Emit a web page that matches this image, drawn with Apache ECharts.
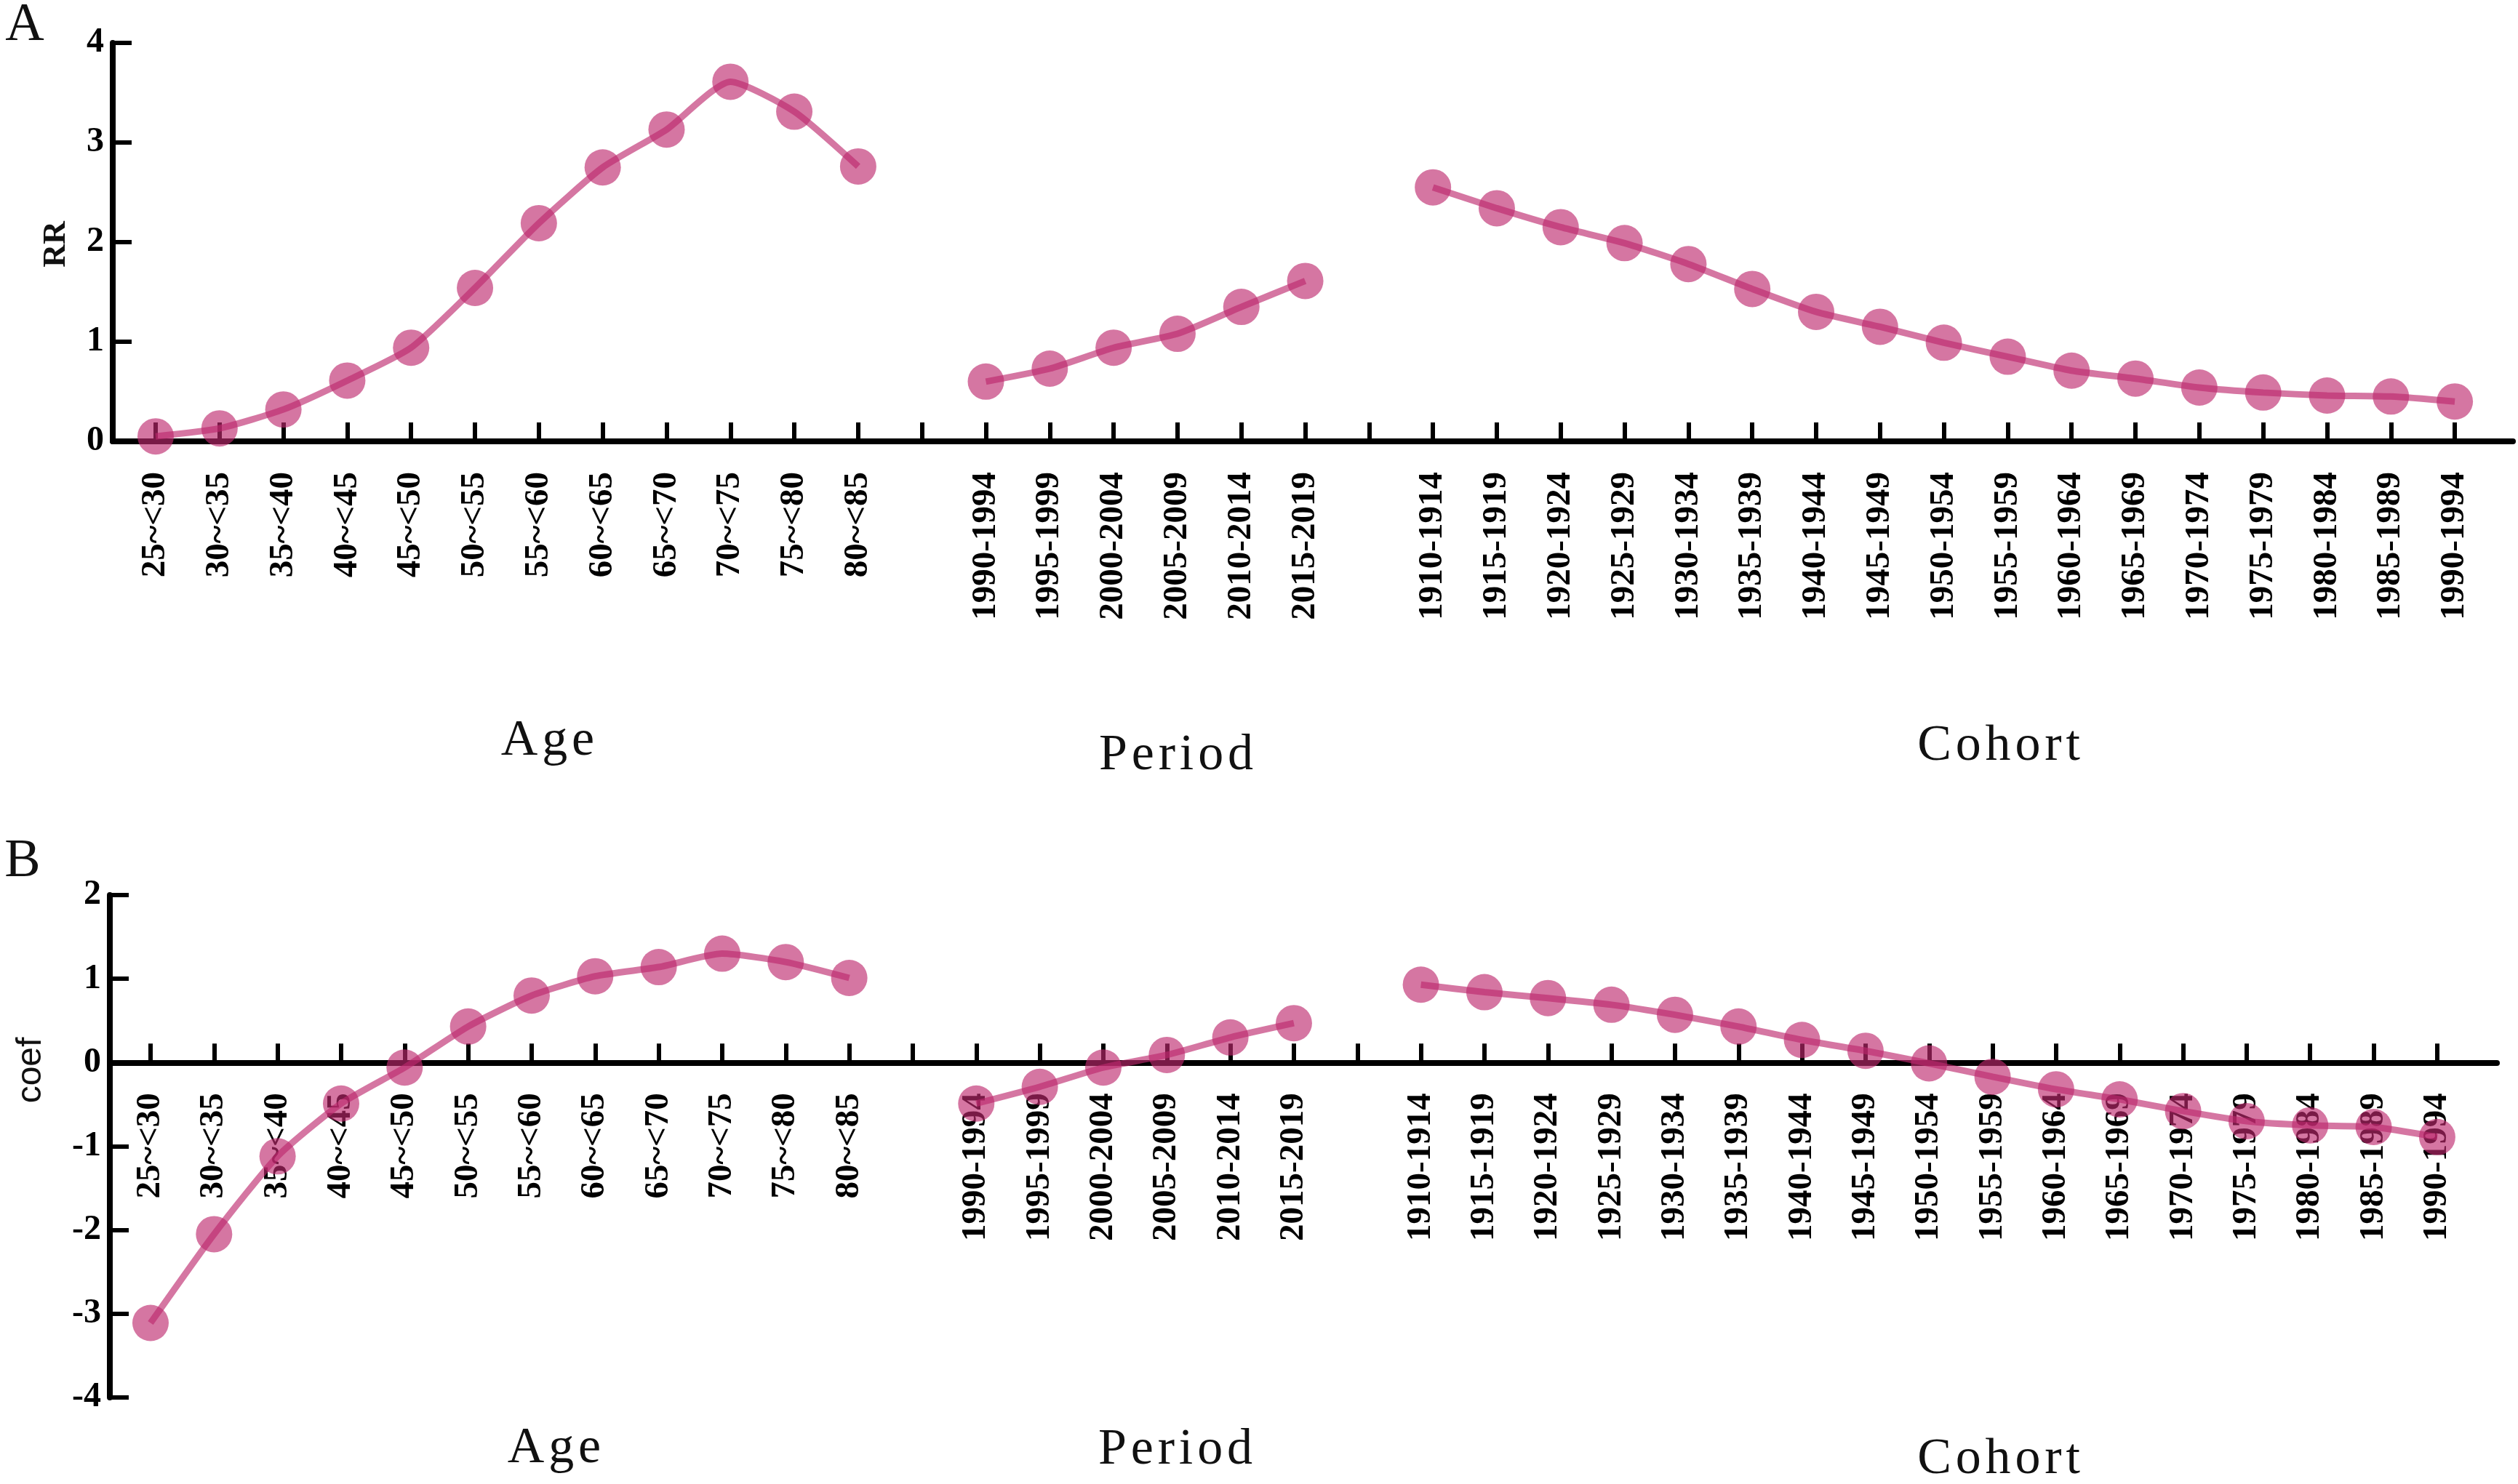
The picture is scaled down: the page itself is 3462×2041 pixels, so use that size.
<!DOCTYPE html>
<html lang="en">

<head>
    <meta charset="UTF-8">
    <title>Age-Period-Cohort</title>
    <script src="https://cdn.jsdelivr.net/npm/echarts@6/dist/echarts.min.js"></script>
    <style>
        html, body { margin: 0; padding: 0; background: #fff; }
        #chart { width: 3462px; height: 2041px; }
    </style>
</head>

<body>
    <div id="chart"></div>

    <script>
        // 横轴分组标签
        var ageLabels = ['25~<30', '30~<35', '35~<40', '40~<45', '45~<50', '50~<55',
            '55~<60', '60~<65', '65~<70', '70~<75', '75~<80', '80~<85'];
        var periodLabels = ['1990-1994', '1995-1999', '2000-2004', '2005-2009', '2010-2014', '2015-2019'];
        var cohortLabels = ['1910-1914', '1915-1919', '1920-1924', '1925-1929', '1930-1934', '1935-1939',
            '1940-1944', '1945-1949', '1950-1954', '1955-1959', '1960-1964', '1965-1969',
            '1970-1974', '1975-1979', '1980-1984', '1985-1989', '1990-1994'];

        // A: RR
        var ageRR = [0.05, 0.13, 0.32, 0.61, 0.94, 1.54, 2.19, 2.75, 3.13, 3.61, 3.31, 2.76];
        var periodRR = [0.60, 0.73, 0.94, 1.08, 1.35, 1.61];
        var cohortRR = [2.55, 2.34, 2.15, 1.99, 1.78, 1.53, 1.30, 1.15, 0.99, 0.85, 0.71,
            0.63, 0.54, 0.49, 0.46, 0.45, 0.40];

        // B: coef
        var ageCoef = [-3.11, -2.05, -1.12, -0.49, -0.06, 0.43, 0.80, 1.03, 1.14, 1.30, 1.20, 1.01];
        var periodCoef = [-0.49, -0.29, -0.06, 0.09, 0.30, 0.47];
        var cohortCoef = [0.93, 0.84, 0.77, 0.69, 0.57, 0.43, 0.27, 0.14, -0.01, -0.17, -0.32,
            -0.44, -0.58, -0.70, -0.75, -0.77, -0.89];

        var groupTitles = ['Age', 'Period', 'Cohort'];

        // 三组之间各空一格
        var periodStart = ageLabels.length + 1;
        var cohortStart = periodStart + periodLabels.length + 1;
        var allLabels = ageLabels.concat([''], periodLabels, [''], cohortLabels);
        var tickValues = allLabels.map(function (l, i) { return i; });

        var pink = 'rgba(190,40,110,0.64)';
        var serif = '"Liberation Serif", "Times New Roman", serif';

        // B 图网格: 上 1231, 下 1922, 零线在 2/6 处
        var gridB = { top: 1231, bottom: 119 };
        var gridBHeight = 2041 - gridB.top - gridB.bottom;
        var zeroOffsetB = -gridBHeight * 4 / 6;

        function toPoints(vals, start) {
            return vals.map(function (v, i) { return [start + i, v]; });
        }

        function lineSeries(vals, start, axisIndex) {
            return {
                type: 'line',
                xAxisIndex: axisIndex,
                yAxisIndex: axisIndex,
                data: toPoints(vals, start),
                smooth: 0.2,
                symbol: 'circle',
                symbolSize: 50,
                itemStyle: { color: pink },
                lineStyle: { color: pink, width: 9 },
                emphasis: { disabled: true },
                z: 3
            };
        }

        function xAxisFor(gridIndex, min, max, offset) {
            return {
                type: 'value',
                gridIndex: gridIndex,
                min: min,
                max: max,
                offset: offset,
                splitLine: { show: false },
                axisLine: { show: true, onZero: false, lineStyle: { color: '#000', width: 8 } },
                axisTick: {
                    show: true, inside: true, length: 26,
                    lineStyle: { color: '#000', width: 6 },
                    customValues: tickValues
                },
                axisLabel: {
                    show: true,
                    rotate: 90,
                    margin: 42,
                    customValues: tickValues,
                    formatter: function (v) { return allLabels[Math.round(v)] || ''; },
                    fontFamily: serif,
                    fontWeight: 'bold',
                    fontSize: 47,
                    color: '#000'
                }
            };
        }

        function yAxisFor(gridIndex, min, max) {
            return {
                type: 'value',
                gridIndex: gridIndex,
                min: min,
                max: max,
                interval: 1,
                splitLine: { show: false },
                axisLine: { show: true, onZero: false, lineStyle: { color: '#000', width: 8 } },
                axisTick: { show: true, inside: true, length: 26, lineStyle: { color: '#000', width: 6 } },
                axisLabel: {
                    margin: 12,
                    fontFamily: serif,
                    fontWeight: 'bold',
                    fontSize: 48,
                    color: '#000'
                }
            };
        }

        function txt(text, x, y, size, opts) {
            opts = opts || {};
            return {
                type: 'text',
                x: x,
                y: y,
                rotation: opts.rotation || 0,
                style: {
                    text: text,
                    fill: '#111',
                    font: (opts.weight || 'normal') + ' ' + size + 'px ' + (opts.family || serif),
                    align: 'center',
                    verticalAlign: 'middle'
                }
            };
        }

        // 字母间稍微拉开
        function spaced(s) { return s.split('').join('\u200A'); }

        var myChart = echarts.init(document.getElementById('chart'));

        var option = {
            animation: false,
            grid: [
                { left: 155, right: 7, top: 59, bottom: 1434, outerBoundsMode: 'none', containLabel: false },
                { left: 151, right: 29, top: gridB.top, bottom: gridB.bottom, outerBoundsMode: 'none', containLabel: false }
            ],
            xAxis: [
                xAxisFor(0, -0.672, 36.91, 0),
                xAxisFor(1, -0.641, 36.94, zeroOffsetB)
            ],
            yAxis: [
                yAxisFor(0, 0, 4),
                yAxisFor(1, -4, 2)
            ],
            series: [
                lineSeries(ageRR, 0, 0),
                lineSeries(periodRR, periodStart, 0),
                lineSeries(cohortRR, cohortStart, 0),
                lineSeries(ageCoef, 0, 1),
                lineSeries(periodCoef, periodStart, 1),
                lineSeries(cohortCoef, cohortStart, 1)
            ],
            graphic: [
                txt('A', 34, 36, 74),
                txt('B', 31, 1186, 74),
                txt('RR', 78, 336, 44, { weight: 'bold', rotation: Math.PI / 2 }),
                txt('coef', 43, 1472, 48, { family: '"Liberation Sans", Arial, sans-serif', rotation: Math.PI / 2 }),
                txt(spaced(groupTitles[0]), 753, 1020, 70),
                txt(spaced(groupTitles[1]), 1617, 1040, 70),
                txt(spaced(groupTitles[2]), 2748, 1027, 70),
                txt(spaced(groupTitles[0]), 762, 1993, 70),
                txt(spaced(groupTitles[1]), 1616, 1995, 70),
                txt(spaced(groupTitles[2]), 2748, 2008, 70)
            ]
        };

        myChart.setOption(option);
    </script>
</body>

</html>
